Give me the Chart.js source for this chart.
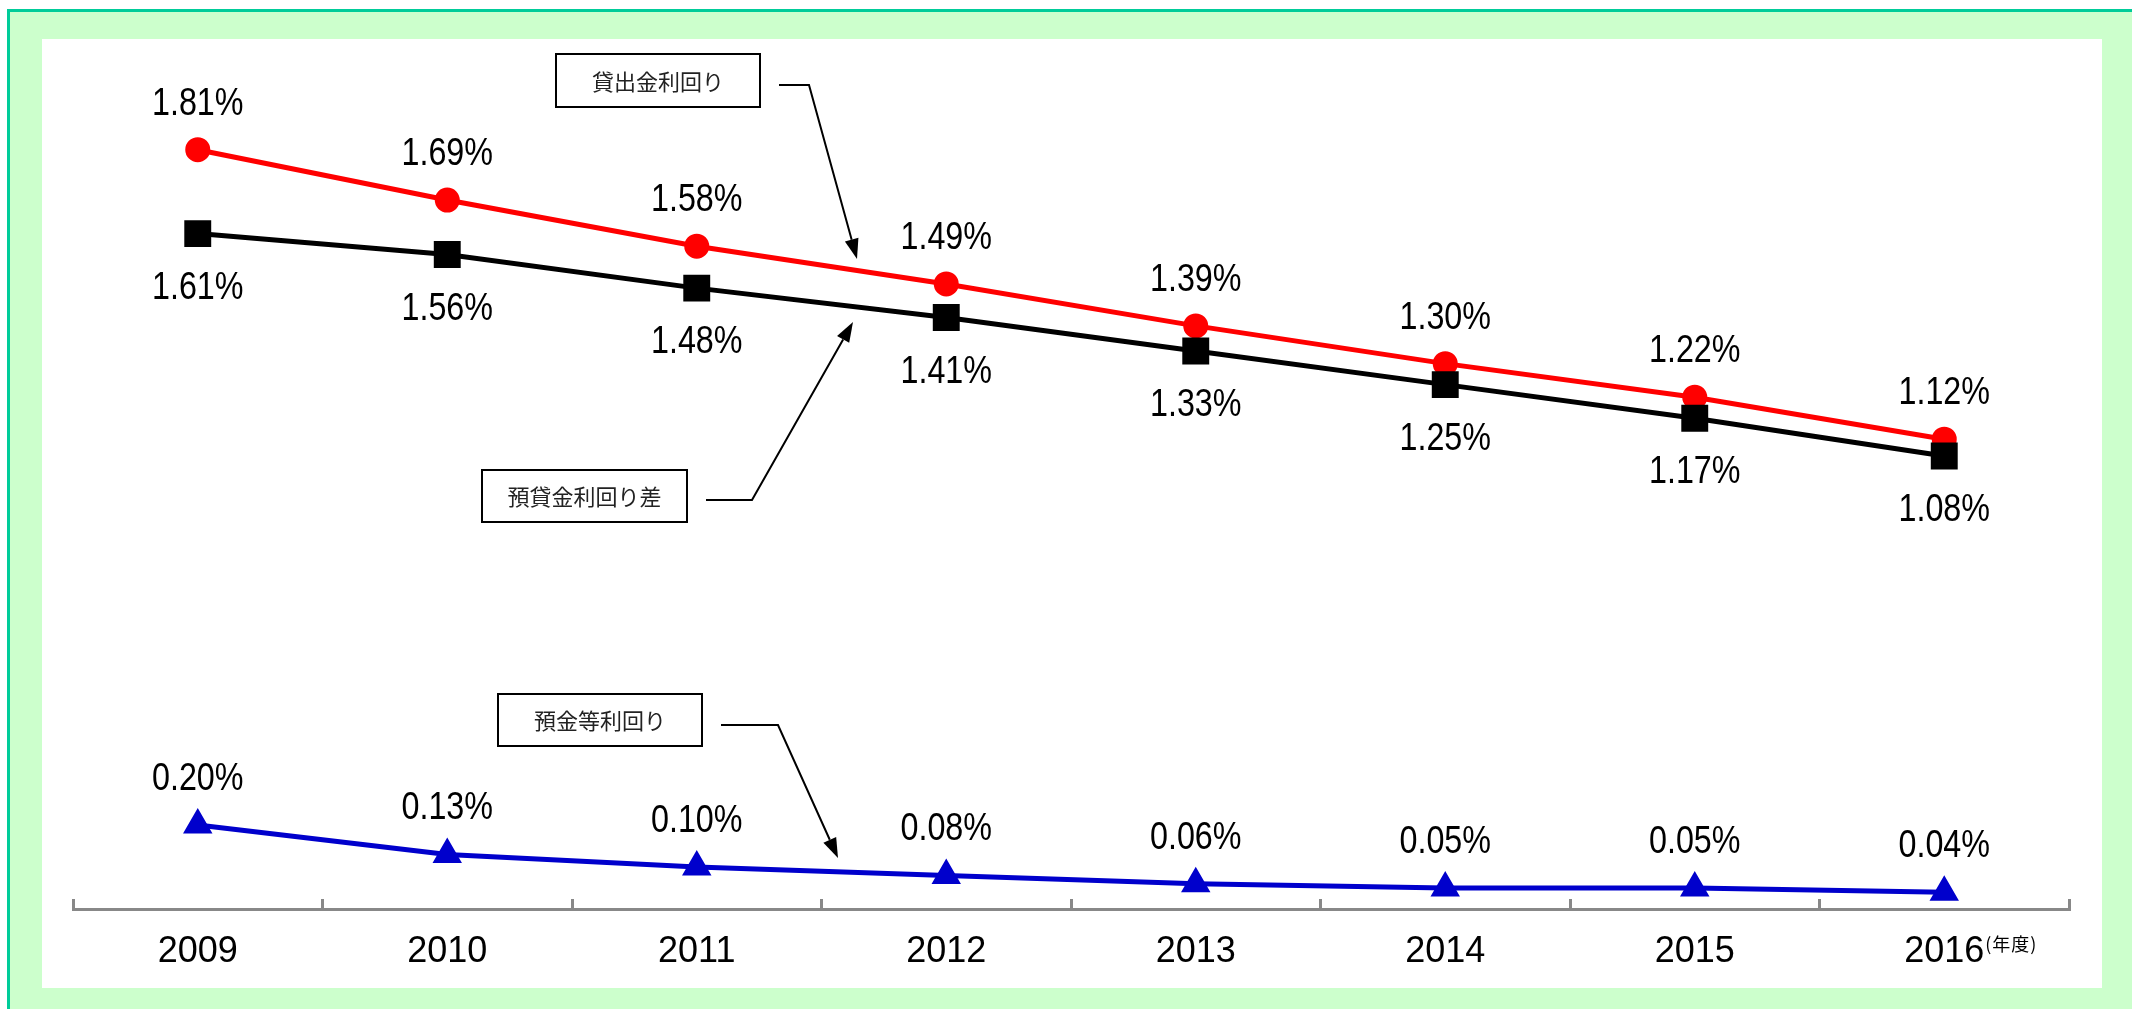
<!DOCTYPE html>
<html><head><meta charset="utf-8">
<script src="https://cdn.jsdelivr.net/npm/chart.js@4.4.0/dist/chart.umd.min.js"></script>
<style>
html,body{margin:0;padding:0;width:2132px;height:1009px;overflow:hidden;background:#fff;}
#frame{position:absolute;left:7px;top:9px;width:2200px;height:1100px;border:3px solid #00CC99;background:#CCFFCC;box-sizing:border-box;}
#wrap{position:absolute;left:42px;top:39px;width:2060px;height:949px;background:#fff;}
canvas{display:block;}
</style></head><body>
<div id="frame"></div>
<div id="wrap"><canvas id="c" width="2060" height="949"></canvas></div>
<script>
// ---- data ----
const years = ['2009','2010','2011','2012','2013','2014','2015','2016'];
const lendingYield = [1.81, 1.69, 1.58, 1.49, 1.39, 1.30, 1.22, 1.12];   // 貸出金利回り
const spread = [1.61, 1.56, 1.48, 1.41, 1.33, 1.25, 1.17, 1.08];         // 預貸金利回り差
const depositYield = [0.20, 0.13, 0.10, 0.08, 0.06, 0.05, 0.05, 0.04];   // 預金等利回り
const unitLabel = '(年度)';

// ---- callouts (canvas pixels) ----
const callouts = [
  { text: '貸出金利回り',   box: [514, 15, 204, 53],  path: [[737, 46], [767, 46], [815, 220]] },
  { text: '預貸金利回り差', box: [440, 431, 205, 52], path: [[664, 461], [710, 461], [811, 283]] },
  { text: '預金等利回り',   box: [456, 655, 204, 52], path: [[679, 686], [736, 686], [796, 819]] }
];

const valueLabels = {
  id: 'valueLabels',
  afterDatasetsDraw(chart) {
    const ctx = chart.ctx;
    chart.data.datasets.forEach((ds, i) => {
      const meta = chart.getDatasetMeta(i);
      meta.data.forEach((pt, j) => {
        const txt = ds.data[j].toFixed(2) + '%';
        const y = ds.labelBelow ? pt.y + 65 : pt.y - 35;
        ctx.save();
        ctx.translate(pt.x, y);
        ctx.scale(0.85, 1);
        ctx.font = '38px "Liberation Sans", Arial, sans-serif';
        ctx.textAlign = 'center';
        ctx.textBaseline = 'alphabetic';
        ctx.fillStyle = '#000';
        ctx.fillText(txt, 0, 0);
        ctx.restore();
      });
    });
    // unit label next to last category
    const xs = chart.scales.x;
    ctx.save();
    ctx.font = '18px "Noto Sans CJK JP", sans-serif';
    ctx.letterSpacing = '1px';
    ctx.fillStyle = '#000';
    ctx.textAlign = 'left';
    ctx.textBaseline = 'top';
    ctx.fillText(unitLabel, xs.getPixelForValue(years.length - 1) + 41, xs.top + 26);
    ctx.restore();
    // callouts
    callouts.forEach(c => {
      ctx.save();
      const [bx, by, bw, bh] = c.box;
      ctx.fillStyle = '#fff';
      ctx.fillRect(bx, by, bw, bh);
      ctx.strokeStyle = '#000';
      ctx.lineWidth = 2;
      ctx.strokeRect(bx, by, bw, bh);
      ctx.font = '22px "Noto Sans CJK JP", sans-serif';
      ctx.fillStyle = '#222';
      ctx.textAlign = 'center';
      ctx.textBaseline = 'middle';
      ctx.fillText(c.text, bx + bw / 2, by + bh / 2 + 1);
      const p = c.path;
      const tip = p[p.length - 1], prev = p[p.length - 2];
      const ang = Math.atan2(tip[1] - prev[1], tip[0] - prev[0]);
      const hl = 20, hw = 7;
      const bxp = tip[0] - hl * Math.cos(ang), byp = tip[1] - hl * Math.sin(ang);
      ctx.beginPath();
      ctx.moveTo(p[0][0], p[0][1]);
      for (let k = 1; k < p.length - 1; k++) ctx.lineTo(p[k][0], p[k][1]);
      ctx.lineTo(bxp, byp);
      ctx.lineWidth = 2;
      ctx.strokeStyle = '#000';
      ctx.stroke();
      ctx.beginPath();
      ctx.moveTo(tip[0], tip[1]);
      ctx.lineTo(bxp + hw * Math.sin(ang), byp - hw * Math.cos(ang));
      ctx.lineTo(bxp - hw * Math.sin(ang), byp + hw * Math.cos(ang));
      ctx.closePath();
      ctx.fillStyle = '#000';
      ctx.fill();
      ctx.restore();
    });
  }
};

new Chart(document.getElementById('c'), {
  type: 'line',
  data: {
    labels: years,
    datasets: [
      { label: '預貸金利回り差', data: spread, borderColor: '#000', backgroundColor: '#000',
        borderWidth: 5, pointStyle: 'rect', pointRadius: 15.5, pointHoverRadius: 15.5, labelBelow: true },
      { label: '貸出金利回り', data: lendingYield, borderColor: '#FF0000', backgroundColor: '#FF0000',
        borderWidth: 5, pointStyle: 'circle', pointRadius: 10, pointHoverRadius: 10 },
      { label: '預金等利回り', data: depositYield, borderColor: '#0000CC', backgroundColor: '#0000CC',
        borderWidth: 5, pointStyle: 'triangle', pointRadius: 12, pointHoverRadius: 12 }
    ]
  },
  options: {
    responsive: false,
    animation: false,
    devicePixelRatio: 1,
    layout: { padding: { left: 31, right: 33, top: 31, bottom: 0 } },
    plugins: { legend: { display: false }, tooltip: { enabled: false } },
    elements: { line: { tension: 0 }, point: { borderWidth: 0 } },
    scales: {
      x: {
        offset: true,
        grid: { offset: true, drawOnChartArea: false, drawTicks: true, tickLength: -10, color: '#888', lineWidth: 3 },
        border: { display: true, color: '#888', width: 3 },
        ticks: { color: '#000', font: { family: '"Liberation Sans", Arial, sans-serif', size: 36 }, padding: 31, maxRotation: 0, autoSkip: false },
        afterFit(scale) { scale.height = 79; }
      },
      y: { display: false, min: 0, max: 2.0 }
    }
  },
  plugins: [valueLabels]
});
</script>
</body></html>
